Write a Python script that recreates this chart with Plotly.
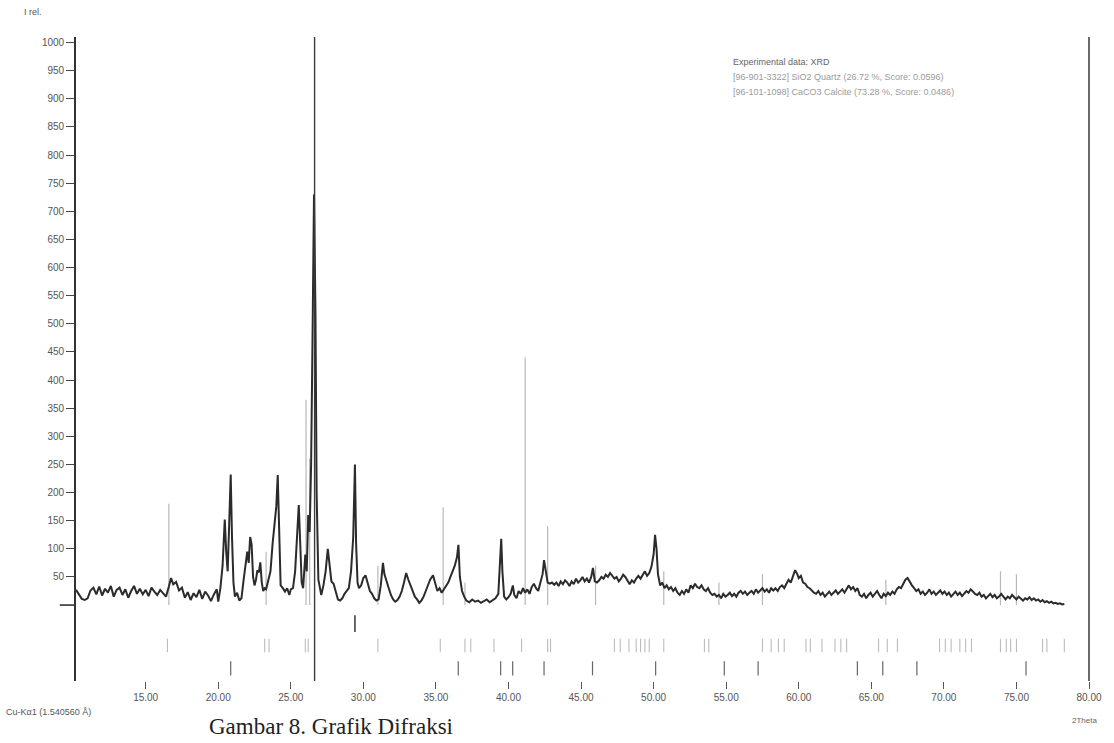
import plotly.graph_objects as go

# ---------------- data ----------------
two_theta = [10.2,10.4,10.6,10.8,11.0,11.2,11.4,11.6,11.8,12.0,12.2,12.4,12.6,12.8,13.0,13.2,13.4,13.6,13.8,14.0,
 14.2,14.4,14.6,14.8,15.0,15.2,15.4,15.6,15.8,16.0,16.2,16.4,16.6,16.75,16.9,17.1,17.3,17.5,17.7,17.9,
 18.1,18.3,18.5,18.7,18.9,19.1,19.3,19.5,19.7,19.9,20.0,20.15,20.3,20.45,20.55,20.65,20.75,20.86,20.95,21.05,
 21.15,21.3,21.45,21.6,21.75,21.9,22.0,22.1,22.2,22.3,22.4,22.5,22.6,22.7,22.8,22.9,23.0,23.1,23.2,23.3,
 23.45,23.6,23.75,23.9,24.0,24.1,24.2,24.3,24.45,24.6,24.75,24.9,25.0,25.15,25.3,25.45,25.55,25.65,25.75,25.85,
 26.0,26.1,26.2,26.3,26.4,26.5,26.6,26.7,26.78,26.9,27.0,27.1,27.25,27.4,27.55,27.65,27.8,27.95,28.1,28.25,
 28.4,28.55,28.7,28.85,29.0,29.15,29.3,29.42,29.5,29.6,29.7,29.85,30.0,30.15,30.3,30.45,30.6,30.75,30.9,31.05,
 31.2,31.35,31.45,31.6,31.75,31.9,32.05,32.2,32.35,32.5,32.65,32.8,32.95,33.1,33.25,33.4,33.55,33.7,33.85,34.0,
 34.15,34.3,34.45,34.6,34.8,34.95,35.1,35.25,35.4,35.55,35.7,35.85,36.0,36.15,36.3,36.45,36.55,36.65,36.8,36.95,
 37.1,37.3,37.5,37.7,37.9,38.1,38.3,38.5,38.7,38.9,39.1,39.3,39.42,39.5,39.58,39.7,39.85,40.0,40.15,40.3,
 40.4,40.55,40.7,40.85,41.0,41.15,41.3,41.45,41.6,41.75,41.9,42.05,42.2,42.35,42.45,42.55,42.7,42.85,43.0,43.15,
 43.3,43.45,43.6,43.75,43.9,44.05,44.2,44.35,44.5,44.65,44.8,44.95,45.1,45.25,45.4,45.55,45.7,45.82,45.95,46.1,
 46.25,46.4,46.55,46.7,46.85,47.0,47.15,47.3,47.45,47.6,47.75,47.9,48.05,48.2,48.35,48.5,48.65,48.8,48.95,49.1,
 49.25,49.4,49.55,49.7,49.85,50.0,50.1,50.2,50.3,50.45,50.6,50.75,50.9,51.05,51.2,51.35,51.5,51.65,51.8,51.95,
 52.1,52.25,52.4,52.55,52.7,52.85,53.0,53.15,53.3,53.45,53.6,53.75,53.9,54.05,54.2,54.35,54.5,54.65,54.8,54.95,
 55.1,55.25,55.4,55.55,55.7,55.85,56.0,56.15,56.3,56.45,56.6,56.75,56.9,57.05,57.2,57.35,57.5,57.65,57.8,57.95,
 58.1,58.25,58.4,58.55,58.7,58.85,59.0,59.15,59.3,59.45,59.6,59.75,59.9,60.0,60.15,60.3,60.45,60.6,60.75,60.9,
 61.05,61.2,61.35,61.5,61.65,61.8,61.95,62.1,62.25,62.4,62.55,62.7,62.85,63.0,63.15,63.3,63.45,63.6,63.75,63.9,
 64.05,64.2,64.35,64.5,64.65,64.8,64.95,65.1,65.25,65.4,65.55,65.7,65.85,66.0,66.15,66.3,66.45,66.6,66.75,66.9,
 67.05,67.2,67.35,67.5,67.65,67.8,67.95,68.1,68.25,68.4,68.55,68.7,68.85,69.0,69.15,69.3,69.45,69.6,69.75,69.9,
 70.05,70.2,70.35,70.5,70.65,70.8,70.95,71.1,71.25,71.4,71.55,71.7,71.85,72.0,72.15,72.3,72.45,72.6,72.75,72.9,
 73.05,73.2,73.35,73.5,73.65,73.8,73.95,74.1,74.25,74.4,74.55,74.7,74.85,75.0,75.15,75.3,75.45,75.6,75.75,75.9,
 76.05,76.2,76.35,76.5,76.65,76.8,76.95,77.1,77.25,77.4,77.55,77.7,77.85,78.0,78.15,78.3]

intensity = [27,20,11,9,12,26,31,19,33,17,29,22,34,15,27,31,18,28,13,25,
 34,20,29,19,27,16,31,24,18,27,21,15,33,48,37,41,26,31,13,23,
 9,21,14,27,11,24,17,7,19,28,6,30,70,152,95,60,140,232,120,40,
 15,22,8,12,45,70,95,75,121,108,50,35,45,62,58,76,40,25,30,28,
 45,60,110,150,175,231,120,35,30,24,30,18,28,30,60,130,178,110,40,30,
 90,60,160,130,250,480,730,520,200,45,30,18,35,60,100,80,42,38,25,10,
 8,12,20,26,30,60,120,250,110,40,30,35,48,53,38,25,20,12,8,10,
 35,75,55,40,30,18,10,6,9,15,25,40,57,45,35,28,15,10,4,8,
 15,25,35,45,53,40,25,30,22,28,35,40,50,60,70,85,107,50,25,15,
 8,5,10,6,8,4,7,10,5,8,12,20,70,118,60,15,10,14,20,35,
 18,12,25,20,30,22,28,20,32,38,30,25,40,55,80,60,40,38,40,36,
 40,34,42,37,44,40,34,42,37,47,40,44,50,42,47,40,50,66,42,40,
 44,50,47,54,50,57,52,47,50,42,47,54,50,42,37,44,40,47,52,47,
 54,60,52,57,68,90,125,100,55,35,40,30,35,28,32,25,30,22,18,25,
 20,28,22,35,30,38,32,30,35,28,25,30,22,18,20,15,18,12,20,15,
 18,22,16,20,15,22,25,20,24,18,22,25,20,28,22,26,30,24,28,22,
 30,26,30,25,32,35,30,38,45,40,50,62,55,48,52,40,38,32,30,25,
 22,20,25,18,22,15,20,24,18,22,26,20,25,28,22,30,35,28,32,25,
 30,18,15,20,12,18,22,15,20,25,18,12,20,16,22,18,24,20,28,32,
 30,38,45,48,40,35,30,25,28,20,24,18,22,28,20,24,18,22,26,20,
 24,18,22,15,20,24,18,22,16,20,25,22,28,24,20,18,22,15,18,12,
 16,20,14,18,12,15,20,14,10,15,12,18,14,10,15,12,8,12,10,14,
 9,12,8,10,6,9,5,7,4,6,3,4,2,3,1,2]

# reference-phase sticks drawn inside the pattern (light grey phase)
stick_pos = [16.6, 23.3, 26.05, 26.3, 31.0, 35.5, 37.0, 41.15, 42.7, 46.0, 50.7, 54.5, 57.5, 66.0, 73.9, 75.0]
stick_height = [180, 95, 365, 260, 70, 174, 40, 440, 140, 70, 60, 40, 55, 45, 60, 55]

# strongest line marker (dark), full scale
main_line_pos = [26.64]
main_line_top = [1010]
main_line_bottom = [-135]

# phase marker rows below the pattern
row_c_pos = [29.42]                                  # dark short row
row_a_pos = [16.5, 23.2, 23.5, 26.0, 26.2, 31.0, 35.3, 37.0, 37.4, 39.0, 40.9, 42.7, 42.9,
             47.3, 47.7, 48.3, 48.8, 49.1, 49.4, 49.7, 50.7, 53.5, 53.8, 57.5, 58.1, 58.6, 59.0,
             60.5, 60.8, 61.6, 62.5, 62.9, 63.3, 65.5, 66.1, 66.8, 69.7, 70.1, 70.5, 71.1, 71.5,
             71.9, 73.9, 74.3, 74.6, 75.0, 76.8, 77.1, 78.3]
row_b_pos = [20.86, 36.54, 39.46, 40.29, 42.45, 45.79, 50.14, 54.87, 57.2, 64.04, 65.79, 68.14, 75.66]

x_tick_vals = [15, 20, 25, 30, 35, 40, 45, 50, 55, 60, 65, 70, 75, 80]
x_tick_text = ["15.00", "20.00", "25.00", "30.00", "35.00", "40.00", "45.00", "50.00",
               "55.00", "60.00", "65.00", "70.00", "75.00", "80.00"]
y_tick_vals = [50, 100, 150, 200, 250, 300, 350, 400, 450, 500, 550, 600, 650, 700, 750,
               800, 850, 900, 950, 1000]

legend_lines = ["Experimental data: XRD",
                "[96-901-3322] SiO2 Quartz (26.72 %, Score: 0.0596)",
                "[96-101-1098] CaCO3 Calcite (73.28 %, Score: 0.0486)"]

caption = "Gambar 8. Grafik Difraksi"

# ---------------- helpers ----------------
def sticks(pos, y0, y1):
    xs, ys = [], []
    for i, p in enumerate(pos):
        a = y0[i] if isinstance(y0, list) else y0
        b = y1[i] if isinstance(y1, list) else y1
        xs += [p, p, None]
        ys += [a, b, None]
    return xs, ys

W, H = 1114, 743
L, R, T, B = 76, 19, 37, 62

fig = go.Figure()

xs, ys = sticks(stick_pos, 0, stick_height)
fig.add_trace(go.Scatter(x=xs, y=ys, mode="lines", line=dict(color="#b8b8b8", width=1.2),
                         hoverinfo="skip", showlegend=False))

fig.add_trace(go.Scatter(x=two_theta, y=intensity, mode="lines",
                         line=dict(color="#2b2b2b", width=2.0), showlegend=False))

xs, ys = sticks(main_line_pos, main_line_bottom, main_line_top)
fig.add_trace(go.Scatter(x=xs, y=ys, mode="lines", line=dict(color="#3a3a3a", width=1.4),
                         hoverinfo="skip", showlegend=False))

xs, ys = sticks(row_c_pos, -18, -48)
fig.add_trace(go.Scatter(x=xs, y=ys, mode="lines", line=dict(color="#444444", width=1.6),
                         hoverinfo="skip", showlegend=False))
xs, ys = sticks(row_a_pos, -60, -84)
fig.add_trace(go.Scatter(x=xs, y=ys, mode="lines", line=dict(color="#bcbcbc", width=1.1),
                         hoverinfo="skip", showlegend=False))
xs, ys = sticks(row_b_pos, -100, -125)
fig.add_trace(go.Scatter(x=xs, y=ys, mode="lines", line=dict(color="#666666", width=1.2),
                         hoverinfo="skip", showlegend=False))

pw = W - L - R
ph = H - T - B

def px(x):
    return (x - L) / pw

def py(y):
    return (H - B - y) / ph

ann = []
ann.append(dict(text="I rel.", x=px(22), y=py(12), xref="paper", yref="paper",
                xanchor="left", yanchor="middle", showarrow=False,
                font=dict(family="Liberation Sans", size=9, color="#555")))
ann.append(dict(text="Cu-K\u03b11 (1.540560 \u00c5)", x=px(4), y=py(712), xref="paper", yref="paper",
                xanchor="left", yanchor="middle", showarrow=False,
                font=dict(family="Liberation Sans", size=9, color="#555")))
ann.append(dict(text="2Theta", x=px(1076), y=py(721), xref="paper", yref="paper",
                xanchor="left", yanchor="middle", showarrow=False,
                font=dict(family="Liberation Sans", size=8, color="#666")))
for i, t in enumerate(legend_lines):
    ann.append(dict(text=t, x=px(735), y=py(62 + 15 * i), xref="paper", yref="paper",
                    xanchor="left", yanchor="middle", showarrow=False,
                    font=dict(family="Liberation Sans", size=9,
                              color="#666" if i == 0 else "#9a9a9a")))
ann.append(dict(text=caption, x=px(208), y=py(726), xref="paper", yref="paper",
                xanchor="left", yanchor="middle", showarrow=False,
                font=dict(family="Liberation Serif", size=23, color="#222")))
fig.update_layout(annotations=ann)

fig.update_layout(shapes=[
    dict(type="line", xref="paper", yref="y", x0=-0.016, x1=0, y0=0, y1=0,
         line=dict(color="#333", width=1.6)),
    dict(type="line", xref="paper", yref="y", x0=1, x1=1, y0=-135, y1=1010,
         line=dict(color="#444", width=1.6)),
])

fig.update_layout(
    width=W, height=H,
    margin=dict(l=L, r=R, t=T, b=B),
    paper_bgcolor="white", plot_bgcolor="white",
    xaxis=dict(range=[10.2, 80.0], showgrid=False, zeroline=False, showline=False,
               tickmode="array", tickvals=x_tick_vals, ticktext=x_tick_text,
               ticks="outside", ticklen=7, tickcolor="#555", tickwidth=1,
               tickfont=dict(family="Liberation Sans", size=10, color="#555")),
    yaxis=dict(range=[-135, 1010], showgrid=False, zeroline=False, showline=True,
               linecolor="#333", linewidth=1.6,
               tickmode="array", tickvals=y_tick_vals,
               ticks="outside", ticklen=8, tickcolor="#444", tickwidth=1.2,
               tickfont=dict(family="Liberation Sans", size=10, color="#555")),
)

fig.write_html("out.html")
